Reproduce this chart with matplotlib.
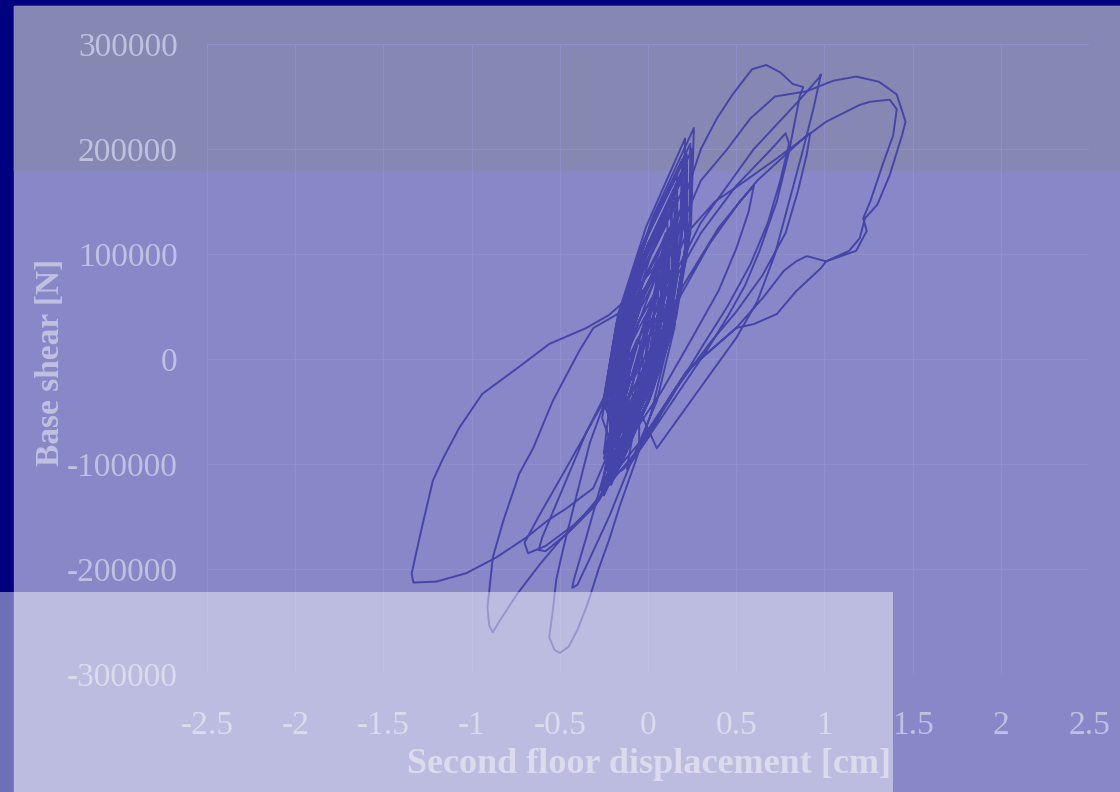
"""
Base shear vs second floor displacement hysteresis, slide-style background.
"""

import matplotlib
matplotlib.use("Agg")
import matplotlib.pyplot as plt
from matplotlib.patches import Rectangle

# ---- data (cm, N) ----
x_ticks = [-2.5, -2, -1.5, -1, -0.5, 0, 0.5, 1, 1.5, 2, 2.5]
x_tick_labels = ["-2.5", "-2", "-1.5", "-1", "-0.5", "0", "0.5", "1", "1.5", "2", "2.5"]
y_ticks = [-300000, -200000, -100000, 0, 100000, 200000, 300000]
y_tick_labels = ["-300000", "-200000", "-100000", "0", "100000", "200000", "300000"]

start = [(0.0, 0)]

# dense central band of small cycles
core_1 = [(-0.12, -40000), (-0.035, -15000), (0.014, 10000), (0.035, 35000),
          (0.03, 60000), (-0.055, 35000), (-0.106, 10000), (-0.125, -15000),
          (-0.16, -70000), (-0.03, -27500), (0.05, 15000), (0.09, 57500),
          (0.085, 100000), (-0.045, 57500), (-0.13, 15000), (-0.17, -27500),
          (-0.21, -100000), (-0.02, -37500), (0.10, 25000), (0.16, 87500),
          (0.16, 150000), (-0.02, 87500), (-0.14, 25000), (-0.20, -37500),
          (-0.21, -120000), (0.005, -40000), (0.16, 40000), (0.24, 120000),
          (0.25, 200000), (0.03, 120000), (-0.12, 40000), (-0.205, -40000),
          (-0.21, -90000), (-0.05, -35000), (0.06, 20000), (0.11, 75000),
          (0.11, 130000), (-0.055, 75000), (-0.16, 20000), (-0.21, -35000),
          (-0.22, -110000), (-0.02, -40000), (0.11, 30000), (0.18, 100000),
          (0.19, 170000), (-0.01, 100000), (-0.15, 30000), (-0.215, -40000)]

core_2 = [(-0.27, -125000), (-0.045, -41250), (0.11, 42500), (0.20, 126250),
          (0.21, 210000), (-0.01, 126250), (-0.17, 42500), (-0.255, -41250),
          (-0.15, -80000), (0.005, -30000), (0.10, 20000), (0.145, 70000),
          (0.14, 120000), (-0.005, 70000), (-0.10, 20000), (-0.145, -30000),
          (-0.23, -105000), (-0.04, -38750), (0.09, 27500), (0.15, 93750),
          (0.15, 160000), (-0.04, 93750), (-0.17, 27500), (-0.235, -38750),
          (-0.15, -60000), (-0.03, -22500), (0.04, 15000), (0.075, 52500),
          (0.07, 90000), (-0.045, 52500), (-0.12, 15000), (-0.155, -22500),
          (-0.22, -115000), (0.005, -40000), (0.15, 35000), (0.22, 110000),
          (0.22, 185000), (0.0, 110000), (-0.15, 35000), (-0.22, -40000),
          (-0.21, -95000), (-0.035, -36250), (0.085, 22500), (0.14, 81250),
          (0.13, 140000), (-0.04, 81250), (-0.16, 22500), (-0.21, -36250)]

core_3 = [(-0.25, -130000), (-0.01, -42500), (0.155, 45000), (0.245, 132500),
          (0.26, 220000), (0.02, 132500), (-0.145, 45000), (-0.235, -42500),
          (-0.14, -70000), (-0.01, -25000), (0.08, 20000), (0.12, 65000),
          (0.12, 110000), (-0.015, 65000), (-0.10, 20000), (-0.145, -25000),
          (-0.25, -110000), (-0.04, -38750), (0.10, 32500), (0.165, 103750),
          (0.165, 175000), (-0.045, 103750), (-0.18, 32500), (-0.25, -38750),
          (-0.17, -85000), (-0.015, -32500), (0.09, 20000), (0.14, 72500),
          (0.13, 125000), (-0.03, 72500), (-0.13, 20000), (-0.18, -32500),
          (-0.235, -120000), (-0.005, -41250), (0.145, 37500), (0.22, 116250),
          (0.22, 195000), (-0.005, 116250), (-0.155, 37500), (-0.235, -41250),
          (-0.13, -50000), (-0.03, -17500), (0.03, 15000), (0.06, 47500),
          (0.055, 80000), (-0.045, 47500), (-0.11, 15000), (-0.14, -17500)]

core_4 = [(-0.175, -100000), (0.02, -33750), (0.15, 32500), (0.21, 98750),
          (0.21, 165000), (0.015, 98750), (-0.11, 32500), (-0.175, -33750),
          (-0.26, -125000), (-0.065, -56250), (0.07, 12500), (0.135, 81250),
          (0.135, 150000), (-0.06, 81250), (-0.19, 12500), (-0.26, -56250),
          (-0.19, -90000), (0.02, -16250), (0.165, 57500), (0.235, 131250),
          (0.24, 205000), (0.025, 131250), (-0.12, 57500), (-0.19, -16250),
          (-0.18, -75000), (-0.035, -27500), (0.06, 20000), (0.10, 67500),
          (0.10, 115000), (-0.045, 67500), (-0.14, 20000), (-0.185, -27500),
          (-0.21, -110000), (0.01, -37500), (0.15, 35000), (0.22, 107500),
          (0.21, 180000), (-0.005, 107500), (-0.15, 35000), (-0.215, -37500),
          (-0.155, -65000), (-0.035, -25000), (0.04, 15000), (0.08, 55000),
          (0.08, 95000), (-0.04, 55000), (-0.12, 15000), (-0.155, -25000)]

core_5 = [(-0.245, -115000), (-0.03, -38750), (0.115, 37500), (0.19, 113750),
          (0.195, 190000), (-0.02, 113750), (-0.165, 37500), (-0.24, -38750),
          (-0.155, -80000), (0.01, -26250), (0.12, 27500), (0.17, 81250),
          (0.155, 135000), (-0.01, 81250), (-0.12, 27500), (-0.17, -26250),
          (-0.21, -105000), (-0.02, -40000), (0.105, 25000), (0.17, 90000),
          (0.165, 155000), (-0.03, 90000), (-0.155, 25000), (-0.215, -40000),
          (-0.145, -60000), (-0.02, -20000), (0.06, 20000), (0.095, 60000),
          (0.085, 100000), (-0.04, 60000), (-0.12, 20000), (-0.155, -20000),
          (-0.12, -40000), (-0.035, -15000), (0.015, 10000), (0.035, 35000),
          (0.03, 60000), (-0.055, 35000), (-0.105, 10000), (-0.125, -15000),
          (-0.09, -20000), (-0.04, -7500), (-0.013, 5000), (-0.005, 17500),
          (-0.015, 30000), (-0.065, 17500), (-0.093, 5000), (-0.10, -7500)]

# large excursions
loop_top = [(-0.25, -90000), (-0.15, -40000), (-0.05, 20000), (0.05, 70000),
            (0.18, 140000), (0.30, 200000), (0.39, 229000), (0.48, 252000),
            (0.59, 276000), (0.67, 280000), (0.75, 273000), (0.82, 262000),
            (0.88, 259000), (0.86, 250000), (0.80, 198000), (0.73, 150000),
            (0.63, 102000), (0.55, 70000), (0.45, 40000), (0.34, 10000),
            (0.22, -20000), (0.10, -50000), (-0.02, -80000), (-0.14, -105000),
            (-0.24, -115000)]

loop_left = [(0.18, 140000), (0.05, 90000), (-0.10, 60000), (-0.22, 42000),
             (-0.35, 29500), (-0.56, 14300), (-0.74, -8600), (-0.94, -33300),
             (-1.07, -65600), (-1.16, -94100), (-1.22, -116000), (-1.29, -166400),
             (-1.34, -204400), (-1.33, -212900), (-1.20, -212000), (-1.03, -204000),
             (-0.86, -189000), (-0.69, -170000), (-0.57, -154000), (-0.46, -142000),
             (-0.31, -123000), (-0.20, -80000), (-0.10, -20000), (0.02, 50000),
             (0.15, 130000)]

loop_right_outer = [(-0.20, -60000), (-0.05, 20000), (0.12, 100000), (0.30, 170000),
                    (0.45, 200000), (0.58, 229000), (0.72, 250000), (0.90, 255000),
                    (1.05, 265000), (1.18, 269000), (1.31, 264000), (1.41, 252000),
                    (1.46, 226000), (1.44, 213000), (1.37, 175000), (1.30, 147000),
                    (1.23, 134000), (1.20, 115000), (1.14, 103000), (1.01, 93000),
                    (0.90, 98000), (0.84, 93000), (0.77, 84000), (0.65, 58000),
                    (0.50, 29500), (0.37, 10500), (0.22, -11400), (0.12, -37100),
                    (0.00, -70000), (-0.15, -100000)]

loop_low_left = [(0.10, 120000), (0.00, 70000), (-0.15, 45000), (-0.31, 29500),
                 (-0.39, 7600), (-0.54, -40000), (-0.65, -84600), (-0.73, -109300),
                 (-0.82, -154000), (-0.88, -189200), (-0.91, -236700), (-0.90, -253800),
                 (-0.88, -260500), (-0.84, -249100), (-0.74, -223400), (-0.61, -194900),
                 (-0.50, -173000), (-0.39, -154000), (-0.27, -130000), (-0.15, -80000),
                 (0.00, -10000), (0.12, 60000)]

loop_right_inner = [(-0.25, -95000), (-0.10, -20000), (0.05, 50000), (0.22, 120000),
                    (0.38, 150000), (0.52, 166000), (0.73, 191000), (1.01, 226000),
                    (1.20, 242000), (1.26, 245000), (1.37, 247000), (1.41, 238000),
                    (1.39, 213000), (1.33, 185000), (1.26, 150000), (1.22, 134000),
                    (1.24, 122000), (1.18, 103000), (1.01, 93000), (0.98, 86500),
                    (0.84, 64600), (0.73, 42800), (0.60, 33300), (0.50, 29500),
                    (0.37, 10500), (0.22, -11400), (0.12, -37100), (0.00, -75000),
                    (-0.12, -105000)]

loop_deep = [(0.05, 60000), (-0.05, 30000), (-0.20, -20000), (-0.33, -80000),
             (-0.42, -140000), (-0.48, -180000), (-0.52, -210000), (-0.54, -240000),
             (-0.56, -265000), (-0.53, -277000), (-0.50, -280000), (-0.45, -274000),
             (-0.40, -258000), (-0.34, -232000), (-0.28, -200000), (-0.22, -172000),
             (-0.16, -140000), (-0.07, -97000), (0.02, -50000), (0.12, 20000),
             (0.22, 100000)]

loop_mid_1 = [(0.20, 140000), (0.05, 60000), (-0.10, 0), (-0.25, -90000),
              (-0.10, -20000), (0.10, 60000), (0.30, 120000), (0.50, 165000),
              (0.70, 200000), (0.78, 215000), (0.80, 205000), (0.75, 170000),
              (0.68, 130000), (0.58, 90000), (0.45, 50000), (0.30, 10000),
              (0.12, -40000), (-0.05, -85000), (-0.20, -115000)]

loop_spike = [(-0.15, -60000), (0.00, 30000), (0.30, 130000), (0.60, 200000),
              (0.85, 245000), (0.97, 268000), (0.98, 271000), (0.94, 240000),
              (0.88, 200000), (0.80, 150000), (0.72, 100000), (0.62, 55000),
              (0.50, 20000), (0.35, -15000), (0.20, -50000), (0.05, -85000)]

loop_small_low = [(-0.10, -30000), (-0.25, -110000), (-0.35, -170000), (-0.42, -210000),
                  (-0.43, -218000), (-0.40, -215000), (-0.33, -190000), (-0.22, -150000),
                  (-0.10, -100000), (0.05, -40000), (0.15, 30000)]

loop_mid_2 = [(0.15, 50000), (0.35, 110000), (0.52, 150000), (0.60, 165000),
              (0.57, 140000), (0.50, 105000), (0.40, 65000), (0.25, 20000),
              (0.08, -30000), (-0.10, -75000)]

loop_low_mid = [(-0.20, -20000), (-0.35, -70000), (-0.50, -130000), (-0.60, -170000),
                (-0.62, -182000), (-0.58, -183000), (-0.45, -165000), (-0.30, -140000),
                (-0.15, -100000), (0.00, -40000)]

loop_low_mid_2 = [(-0.05, 20000), (-0.25, -40000), (-0.45, -100000), (-0.62, -150000),
                  (-0.70, -175000), (-0.68, -185000), (-0.58, -178000), (-0.42, -158000),
                  (-0.28, -135000), (-0.15, -95000), (0.00, -30000)]

loop_mid_3 = [(0.00, 0), (0.20, 70000), (0.40, 125000), (0.62, 170000),
              (0.88, 210000), (0.92, 215000), (0.90, 195000), (0.85, 160000),
              (0.78, 120000), (0.65, 80000), (0.50, 45000), (0.35, 15000),
              (0.15, -30000), (-0.05, -80000)]

end = [(-0.05, 0)]

history = (start + core_1 + loop_top + core_2 + loop_left + core_3
           + loop_right_outer + loop_low_left + core_4 + loop_right_inner
           + loop_deep + loop_mid_1 + core_5 + loop_spike + loop_small_low
           + loop_mid_2 + loop_low_mid + loop_low_mid_2 + loop_mid_3 + end)
disp = [p[0] for p in history]
shear = [p[1] for p in history]

# ---- styling ----
NAVY = "#000080"
PANEL = "#8888c8"
TOP_BAND = "#8787b3"
TEXT = "#c0c0e0"
LINE = "#4545a9"
GRID = "#8f8fcd"
FONT = "Liberation Serif"

W, H = 1120, 792
fig = plt.figure(figsize=(W / 100, H / 100), dpi=100, facecolor=NAVY)

# slide background blocks (pixel rects -> figure fractions)
fig.patches.append(Rectangle((14 / W, 0), 1 - 14 / W, 786 / H,
                             transform=fig.transFigure, color=PANEL, zorder=-2))
fig.patches.append(Rectangle((14 / W, (H - 170) / H), 1 - 14 / W, 164 / H,
                             transform=fig.transFigure, color=TOP_BAND, zorder=-1))

ax = fig.add_axes([207 / W, (H - 674) / H, 882 / W, 630 / H])
ax.set_facecolor("none")
ax.plot(disp, shear, color=LINE, linewidth=1.4, solid_joinstyle="round")

ax.set_xlim(-2.5, 2.5)
ax.set_ylim(-300000, 300000)
ax.set_xticks(x_ticks)
ax.set_xticklabels(x_tick_labels)
ax.set_yticks(y_ticks)
ax.set_yticklabels(y_tick_labels)
ax.grid(True, color=GRID, linewidth=0.8)
ax.set_axisbelow(True)
for s in ax.spines.values():
    s.set_visible(False)
ax.tick_params(axis="both", length=0, colors=TEXT, labelsize=24)
ax.tick_params(axis="x", pad=26)
ax.tick_params(axis="y", pad=21)
for lab in ax.get_xticklabels() + ax.get_yticklabels():
    lab.set_fontfamily(FONT)

ax.set_xlabel("Second floor displacement [cm]", fontsize=26, fontweight="bold",
              color=TEXT, fontfamily=FONT)
ax.xaxis.set_label_coords(0.5006, -0.117)
ax.set_ylabel("Base shear [N]", fontsize=24, fontweight="bold",
              color=TEXT, fontfamily=FONT)
ax.yaxis.set_label_coords(-0.16, 0.494)

# translucent light box over the lower left of the slide
fig.patches.append(Rectangle((0, 0), 893 / W, 200 / H, transform=fig.transFigure,
                             facecolor="white", alpha=0.44, edgecolor="none", zorder=5))

fig.savefig("out.png", dpi=100, facecolor=NAVY)
